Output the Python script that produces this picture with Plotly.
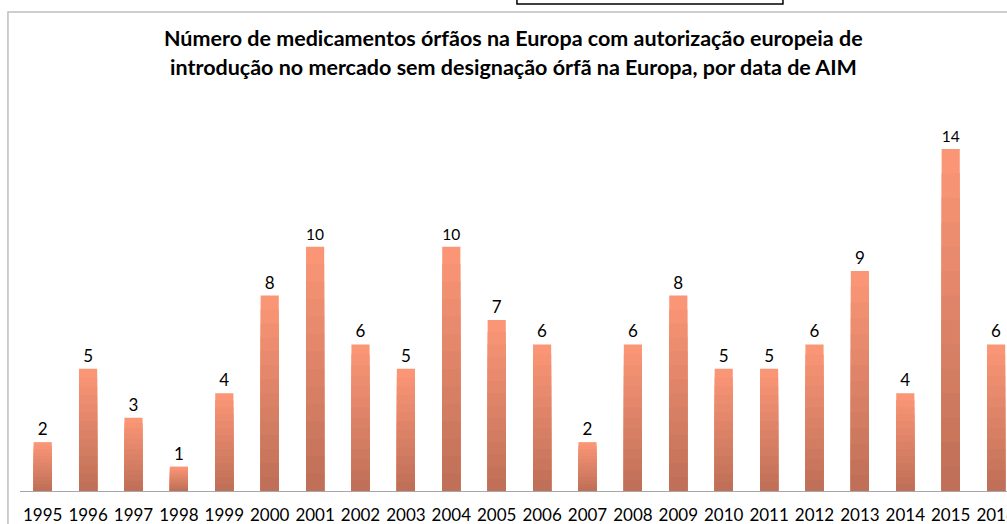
import plotly.graph_objects as go

years = [str(y) for y in range(1995, 2017)]
values = [2, 5, 3, 1, 4, 8, 10, 6, 5, 10, 7, 6, 2, 6, 8, 5, 5, 6, 9, 4, 14, 6]

title_line1 = "Número de medicamentos órfãos na Europa com autorização europeia de"
title_line2 = "introdução no mercado sem designação órfã na Europa, por data de AIM"

# gradient styling: light at top of each bar, darker at bottom
top_rgb = (250, 150, 118)
bot_rgb = (192, 112, 88)
n_layers = 14

FONT = "Lato"
fig = go.Figure()
for k in range(n_layers):
    frac = 1 - k / n_layers
    t = k / (n_layers - 1)
    c = tuple(round(top_rgb[i] + (bot_rgb[i] - top_rgb[i]) * t) for i in range(3))
    fig.add_trace(go.Bar(
        x=years,
        y=[v * frac for v in values],
        marker=dict(color="rgb(%d,%d,%d)" % c, line=dict(width=0)),
        text=values if k == 0 else None,
        texttemplate="%{text}" if k == 0 else None,
        textposition="outside" if k == 0 else "none",
        textfont=dict(family=FONT, size=17, color="#000000"),
        cliponaxis=False,
        hoverinfo="skip",
        showlegend=False,
    ))

fig.update_layout(
    width=1007, height=524,
    margin=dict(l=20, r=0, t=100, b=33, autoexpand=False),
    barmode="overlay",
    bargap=0.6,
    plot_bgcolor="white",
    paper_bgcolor="white",
    font=dict(family=FONT, color="#000000"),
    xaxis=dict(
        type="category",
        range=[-0.5, 21.24],
        showgrid=False,
        showline=True,
        linecolor="#A6A6A6",
        linewidth=1,
        ticks="",
        tickfont=dict(family=FONT, size=17, color="#000000"),
        ticklabelstandoff=9,
        fixedrange=True,
        automargin=False,
    ),
    yaxis=dict(
        range=[0, 16],
        showgrid=False,
        showline=False,
        showticklabels=False,
        zeroline=False,
        ticks="",
    ),
    annotations=[
        dict(text="<b>%s</b>" % title_line1, x=0.5005, y=1.1586, xref="paper", yref="paper",
             xanchor="center", yanchor="middle", showarrow=False,
             font=dict(family=FONT, size=21.5, color="#000000")),
        dict(text="<b>%s</b>" % title_line2, x=0.5005, y=1.0844, xref="paper", yref="paper",
             xanchor="center", yanchor="middle", showarrow=False,
             font=dict(family=FONT, size=21.5, color="#000000")),
    ],
    shapes=[
        dict(type="rect", xref="paper", yref="paper", x0=-0.0122, x1=1.05, y0=-0.2, y1=1.2251,
             line=dict(color="#BFBFBF", width=1.5), fillcolor="rgba(0,0,0,0)", layer="below"),
        dict(type="rect", xref="paper", yref="paper", x0=0.5035, x1=0.773, y0=1.2455, y1=1.35,
             line=dict(color="#000000", width=1.5), fillcolor="rgba(0,0,0,0)"),
    ],
)

fig.write_html(
    "out.html",
    config={"displayModeBar": False},
    post_script="document.body.style.margin='0';document.body.style.overflow='hidden';",
)
